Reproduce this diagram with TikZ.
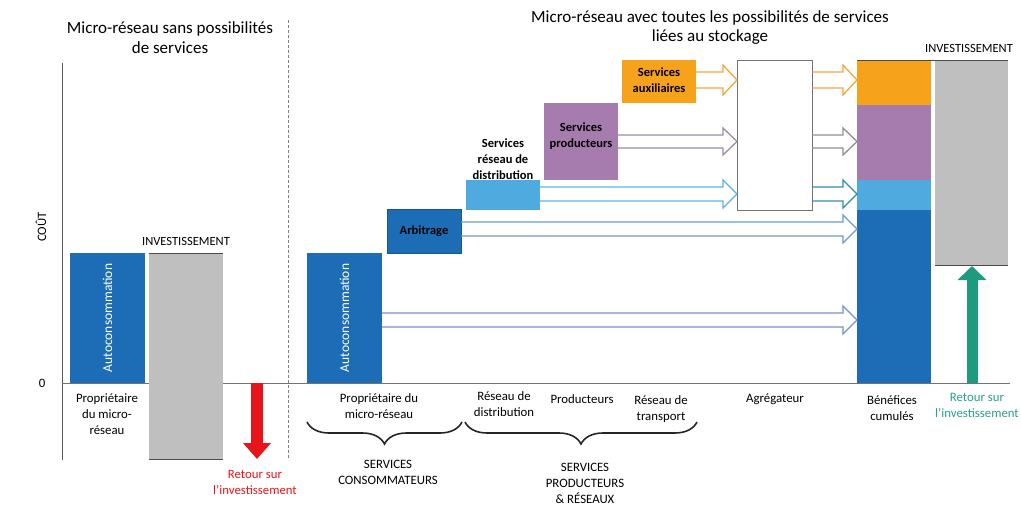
\documentclass[tikz,border=0pt]{standalone}
\usepackage{fontspec}
\setmainfont{Carlito}
\usetikzlibrary{arrows.meta,decorations.pathreplacing,calc}
\definecolor{dblue}{HTML}{1C6DB5}
\definecolor{lblue}{HTML}{4FAADF}
\definecolor{purp}{HTML}{A67BAE}
\definecolor{orng}{HTML}{F7A21B}
\definecolor{greyb}{HTML}{BFBFBF}
\definecolor{redc}{HTML}{E8141B}
\definecolor{tealc}{HTML}{1E9A7E}
\definecolor{tealt}{HTML}{2A9D8F}
\definecolor{corange}{HTML}{F5A742}
\definecolor{cpurp}{HTML}{9A8CA6}
\definecolor{cgreyp}{HTML}{8E8E9A}
\definecolor{clb}{HTML}{5DB3E4}
\definecolor{cteal}{HTML}{2F8FA8}
\definecolor{carb}{HTML}{6A9BD1}
\definecolor{cac}{HTML}{7B8FC4}
\newcommand{\harrow}[5]{%
  \draw[harr,#1] let \p1=(#2.east), \p2=(#3.west), \p3=(0,#4), \p4=(0,#5), \p5=(0,{(#4+#5)/2}) in
  (\x1,\y3) -- (\x2-14pt,\y3) -- (\x2-14pt,\y3+7pt) -- (\x2,\y5) -- (\x2-14pt,\y4-7pt) -- (\x2-14pt,\y4) -- (\x1,\y4);}
\begin{document}
\begin{tikzpicture}[x=1pt,y=-1pt,
  box/.style={draw=none,inner sep=0pt,outer sep=0pt,anchor=north west},
  lbl/.style={font=\fontsize{12.8}{16}\selectfont,align=center,inner sep=0pt},
  blbl/.style={font=\bfseries\fontsize{12.5}{16}\selectfont,align=center,inner sep=0pt},
  vlbl/.style={font=\fontsize{13.5}{15}\selectfont,white,rotate=90,inner sep=0pt},
  title/.style={font=\fontsize{17}{19.5}\selectfont,align=center,inner sep=0pt},
  harr/.style={line width=1.3pt,line join=miter},
  brc/.style={decorate,decoration={brace,mirror,amplitude=22pt},line width=1.6pt,black!85}]
\useasboundingbox (0,0) rectangle (1021,506);
% titles
\node[title] (t1) at (170,37.5) {Micro-réseau sans possibilités\\de services};
\node[title] (t2) at (710,27.5) {Micro-réseau avec toutes les possibilités de services\\liées au stockage};
% axes
\coordinate (ax1) at (62,63);
\coordinate (ax2) at (62,460);
\draw[black!65,line width=1pt] (ax1) -- (ax2);
\coordinate (z1) at (62,383);
\coordinate (z2) at (1010,383);
\draw[black!55,line width=1pt] (z1) -- (z2);
\coordinate (s1) at (288,20);
\coordinate (s2) at (288,460);
\draw[black!50,line width=1pt,dash pattern=on 3pt off 2pt] (s1) -- (s2);
\node[lbl,rotate=90] (cout) at (41,227) {COÛT};
\node[lbl] (zero) at (42,383) {0};
% left bars
\node[box,fill=dblue,minimum width=75pt,minimum height=130pt] (ac1) at (70,253) {};
\node[vlbl] (ac1t) at (ac1.center) {Autoconsommation};
\node[box,fill=greyb,minimum width=74pt,minimum height=206pt] (inv1) at (149,253) {};
\draw[black!70,line width=1pt] (inv1.north west) -- (inv1.north east);
\draw[black!70,line width=1pt] (inv1.south west) -- (inv1.south east);
\node[lbl,font=\fontsize{12.5}{14}\selectfont] (inv1t) at (186,241) {INVESTISSEMENT};
\node[lbl] (own1) at (107,414) {Propriétaire\\du micro-\\réseau};
\coordinate (r1) at (257,383);
\coordinate (r2) at (257,459);
\draw[redc,line width=12pt,-{Triangle[width=27pt,length=16pt]}] (r1) -- (r2);
\node[lbl,redc] (ret1) at (255,482) {Retour sur\\l’investissement};
% right side blocks
\node[box,fill=dblue,minimum width=75pt,minimum height=130pt] (ac2) at (307,253) {};
\node[vlbl] (ac2t) at (ac2.center) {Autoconsommation};
\node[box,fill=dblue,draw=dblue!80!black,minimum width=74pt,minimum height=44pt] (arb) at (387,209) {};
\node[blbl] (arbt) at (arb.center) {Arbitrage};
\node[box,fill=lblue,minimum width=74pt,minimum height=30pt] (dist) at (466,180) {};
\node[blbl] (distt) at (503,159) {Services\\réseau de\\distribution};
\node[box,fill=purp,minimum width=74pt,minimum height=77pt] (prod) at (544,103) {};
\node[blbl] (prodt) at (581,136.5) {Services\\producteurs};
\node[box,fill=orng,minimum width=74pt,minimum height=43pt] (aux) at (622,60) {};
\node[blbl] (auxt) at (659,80.5) {Services\\auxiliaires};
\node[box,fill=white,draw=black!55,line width=1pt,minimum width=75pt,minimum height=150pt] (agg) at (737,60) {};
% stacked bar
\node[box,fill=orng,minimum width=74pt,minimum height=45pt] (bo) at (857,60) {};
\node[box,fill=purp,minimum width=74pt,minimum height=75pt] (bp) at (857,105) {};
\node[box,fill=lblue,minimum width=74pt,minimum height=30pt] (bl) at (857,180) {};
\node[box,fill=dblue,minimum width=74pt,minimum height=173pt] (bb) at (857,210) {};
\node[box,fill=greyb,minimum width=73pt,minimum height=205pt] (inv2) at (935,60) {};
\draw[black!70,line width=1pt] (bo.north west) -- (inv2.north east);
\draw[black!70,line width=1pt] (inv2.south west) -- (inv2.south east);
\node[lbl,font=\fontsize{12.5}{14}\selectfont] (inv2t) at (969,48) {INVESTISSEMENT};
\coordinate (g1) at (972,383);
\coordinate (g2) at (972,266);
\draw[tealc,line width=11pt,-{Triangle[width=28pt,length=14pt]}] (g1) -- (g2);
% hollow arrows
\harrow{corange}{aux}{agg}{72}{88}
\harrow{corange}{agg}{bo}{72}{88}
\harrow{cpurp}{prod}{agg}{135}{148}
\harrow{cgreyp}{agg}{bp}{135}{148}
\harrow{clb}{dist}{agg}{187}{201}
\harrow{cteal}{agg}{bl}{187}{201}
\harrow{carb}{arb}{bb}{222}{236}
\harrow{cac}{ac2}{bb}{313}{327}
% bottom labels
\node[lbl] (own2) at (379,406) {Propriétaire du\\micro-réseau};
\node[lbl] (rd) at (504,404) {Réseau de\\distribution};
\node[lbl] (pr) at (582,399) {Producteurs};
\node[lbl] (rt) at (661,409) {Réseau de\\transport};
\node[lbl] (ag) at (775,399) {Agrégateur};
\node[lbl] (bc) at (892,408.5) {Bénéfices\\cumulés};
\node[lbl,tealt] (ret2) at (977,405.5) {Retour sur\\l’investissement};
% braces
\coordinate (b1a) at (307,422);
\coordinate (b1b) at (462,422);
\coordinate (b2a) at (465,422);
\coordinate (b2b) at (697,422);
\draw[brc] (b1a) -- (b1b);
\draw[brc] (b2a) -- (b2b);
\node[lbl] (sc) at (388,472.5) {SERVICES\\CONSOMMATEURS};
\node[lbl] (sp) at (585,483) {SERVICES\\PRODUCTEURS\\\& RÉSEAUX};
\end{tikzpicture}
\end{document}
